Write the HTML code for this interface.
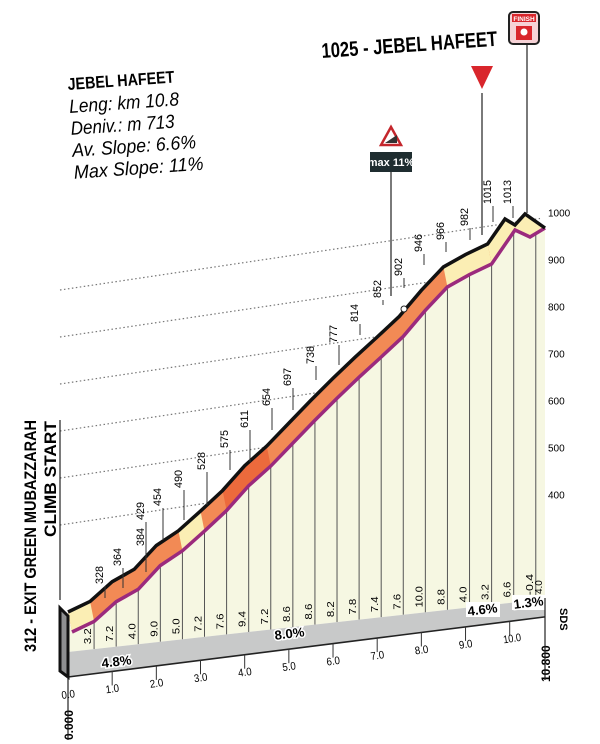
<!DOCTYPE html>
<html><head><meta charset="utf-8"><style>
html,body{margin:0;padding:0;background:#fff;width:600px;height:744px;overflow:hidden}
svg{display:block}
text{font-family:"Liberation Sans",sans-serif}
</style></head><body>
<svg id="s" width="600" height="744" viewBox="0 0 600 744" xmlns="http://www.w3.org/2000/svg">
<g id="grid"></g>
<g id="prof"></g>
<text x="322" y="58" font-size="21" font-weight="bold" transform="rotate(-4 322 58)" textLength="176" lengthAdjust="spacingAndGlyphs">1025 - JEBEL HAFEET</text>
<g transform="rotate(-4 68 90)">
<text x="68" y="90" font-size="17" font-weight="bold" textLength="107" lengthAdjust="spacingAndGlyphs">JEBEL HAFEET</text>
<text x="68" y="113" font-size="19" font-style="italic" textLength="110" lengthAdjust="spacingAndGlyphs">Leng: km 10.8</text>
<text x="68" y="135" font-size="19" font-style="italic" textLength="104" lengthAdjust="spacingAndGlyphs">Deniv.: m 713</text>
<text x="68" y="157" font-size="19" font-style="italic" textLength="124" lengthAdjust="spacingAndGlyphs">Av. Slope: 6.6%</text>
<text x="68" y="179" font-size="19" font-style="italic" textLength="130" lengthAdjust="spacingAndGlyphs">Max Slope: 11%</text>
</g>
<rect x="509" y="12" width="30" height="32" rx="4" fill="#f6d2d6" stroke="#222" stroke-width="2"/>
<rect x="512" y="14" width="24" height="8" fill="#d9262c"/>
<text x="524" y="21" font-size="6.5" fill="#fff" text-anchor="middle" font-weight="bold">FINISH</text>
<rect x="516" y="26" width="16" height="14" fill="#d9262c"/>
<circle cx="524" cy="32" r="3.5" fill="#fff"/>
<line x1="527" y1="44" x2="527" y2="213" stroke="#222" stroke-width="1.2"/>
<polygon points="471,66 493,66 482,89" fill="#d9262c"/>
<line x1="482" y1="93" x2="482" y2="235" stroke="#222" stroke-width="1.2"/>
<polygon points="391,127 401,145 381,145" fill="#fff" stroke="#c4262c" stroke-width="2.5"/>
<polygon points="385,143 397,143 397,135" fill="#333"/>
<rect x="370" y="152" width="42" height="20" fill="#1f2d30"/>
<text x="391" y="166" font-size="11" fill="#fff" text-anchor="middle" font-weight="bold">max 11%</text>
<line x1="391" y1="172" x2="391" y2="296" stroke="#222" stroke-width="1.2"/>
<text transform="translate(36,652) rotate(-90)" font-size="17" font-weight="bold" textLength="232" lengthAdjust="spacingAndGlyphs">312 - EXIT GREEN MUBAZZARAH</text>
<text transform="translate(56,537) rotate(-90)" font-size="17" font-weight="bold" textLength="116" lengthAdjust="spacingAndGlyphs">CLIMB START</text>
<line x1="60" y1="420" x2="60" y2="600" stroke="#222" stroke-width="1.2"/>
<text transform="translate(73,740) rotate(-90)" font-size="12" font-weight="bold">0.000</text>
<text transform="translate(550,682) rotate(-90)" font-size="12" font-weight="bold">10.800</text>
<text transform="translate(560,608) rotate(90)" font-size="11" font-weight="bold">SDS</text>
<line x1="68" y1="677" x2="68" y2="740" stroke="#222" stroke-width="1.2"/>
<line x1="545" y1="598" x2="545" y2="680" stroke="#222" stroke-width="1.2"/>
</svg>
<script>
(function(){
var NS="http://www.w3.org/2000/svg";
function el(p,t,a,txt){var e=document.createElementNS(NS,t);for(var k in a)e.setAttribute(k,a[k]);if(txt!=null)e.textContent=txt;document.getElementById(p).appendChild(e);return e;}
function X(km){return 68+km*44.17;}
function Y(x,e){return 290+(1000-e)*0.47-0.149*(x-60);}
function YP(x,e){return 612-0.149*(x-68)-(e-312)*0.456;}
function BT(x){return 652-(x-68)*0.111;}
function BB(x){return 677-(x-68)*0.126;}
[1000,900,800,700,600,500,400].forEach(function(e){
  var x0=(e>=500)?60:165;
  el("grid","line",{x1:x0,y1:Y(x0,e),x2:540,y2:Y(540,e),stroke:"#777","stroke-width":1.2,"stroke-dasharray":"1.5 2.5"});
  el("grid","text",{x:548,y:Y(540,e)-2,"font-size":10},String(e));
});
var g=[3.2,7.2,4.0,9.0,5.0,7.2,7.6,9.4,7.2,8.6,8.6,8.2,7.8,7.4,7.6,10.0,8.8,4.0,3.2,6.6,-0.4,4.0];
var pts=[[0,312]];var e=312;
for(var i=0;i<g.length;i++){var d=(i==21)?0.3:0.5;e+=g[i]*d*10;pts.push([Math.min(10.8,(i+1)*0.5),e]);}
var sc=(1025-312)/(e-312);pts=pts.map(function(p){return [p[0],312+(p[1]-312)*sc];});
var tp=pts.map(function(p){var x=X(p[0]);return [x,YP(x,p[1])];});
var dx=4,dy=20;
var bt=tp.map(function(p){return [Math.min(p[0]+dx,545),p[1]+dy];});
tp=tp.slice(0,20);
tp.push([505,219],[515,225],[525,214],[545,228]);
bt=bt.slice(0,20);
bt.push([515,230],[530,237],[545,228]);
var poly=bt.map(function(p){return p.join(",")}).join(" ");
el("prof","polygon",{points:"68,"+(tp[0][1]+4)+" "+poly+" 545,"+BT(545)+" 68,"+BT(68),fill:"#f6f7e2"});
var band=tp.map(function(p){return p.join(",")}).concat(bt.slice().reverse().map(function(p){return p.join(",")})).join(" ");
el("prof","polygon",{points:band,fill:"#f28a55"});
function patch(r,col){var a=tp.slice(r[0],r[1]+1),b=bt.slice(r[0],r[1]+1).reverse();
  el("prof","polygon",{points:a.concat(b).map(function(p){return p.join(",")}).join(" "),fill:col});}
[[0,1],[5,6],[17,19]].forEach(function(r){patch(r,"#fbeeb4");});
el("prof","polygon",{points:tp.slice(19).concat(bt.slice(19).reverse()).map(function(p){return p.join(",")}).join(" "),fill:"#fbeeb4"});
patch([7,9],"#ec6a3c");
var extraY={20:231,21:235};
for(var i=1;i<=21;i++){var x=Math.min(X(i*0.5)+dx,545);
  var yb=(i<20)?bt[i][1]:extraY[i];
  el("prof","line",{x1:x,y1:yb,x2:x,y2:BT(x),stroke:"#555","stroke-width":1});
  var s=String(g[i-1]);if(s.indexOf(".")<0)s+=".0";
  el("prof","text",{transform:"translate("+(x-3)+","+(BT(x)-5)+") rotate(-90)","font-size":10,textLength:s.length*5.3,lengthAdjust:"spacingAndGlyphs"},s);
}
el("prof","text",{transform:"translate(542,"+(BT(545)-5)+") rotate(-90)","font-size":10},"4.0");
el("prof","polyline",{points:poly,fill:"none",stroke:"#9b2a7d","stroke-width":3.5});
el("prof","polyline",{points:tp.map(function(p){return p.join(",")}).join(" "),fill:"none",stroke:"#111","stroke-width":3.5});
el("prof","polygon",{points:"68,"+BT(68)+" 545,"+BT(545)+" 545,"+BB(545)+" 68,"+BB(68),fill:"#c8c9c9"});
el("prof","line",{x1:68,y1:BB(68),x2:545,y2:BB(545),stroke:"#222","stroke-width":1.5});
el("prof","polygon",{points:"60,"+(tp[0][1]-4)+" 68,"+(tp[0][1]+4)+" 68,"+BB(68)+" 60,"+(BB(68)-6),fill:"#8e8f90",stroke:"#111","stroke-width":3});
for(var k=0;k<=10;k++){var x=X(k);var s=k.toFixed(1);
  el("prof","line",{x1:x,y1:BB(x),x2:x,y2:BB(x)+14,stroke:"#333","stroke-width":1});
  el("prof","text",{x:x-6,y:BB(x)+22,"font-size":11,textLength:s.length*4.5,lengthAdjust:"spacingAndGlyphs",transform:"rotate(-8 "+(x-6)+" "+(BB(x)+22)+")"},s);
}
[[117,666,"4.8%"],[290,638,"8.0%"],[483,614,"4.6%"],[529,607,"1.3%"]].forEach(function(t){
  if(t[0]>400)el("prof","rect",{x:t[0]-17,y:t[1]-12,width:34,height:15,fill:"#fff"});
  el("prof","text",{x:t[0],y:t[1],"font-size":13,"font-weight":"bold","text-anchor":"middle",textLength:30,lengthAdjust:"spacingAndGlyphs",transform:"rotate(-7 "+t[0]+" "+t[1]+")",stroke:"#fff","stroke-width":3,"paint-order":"stroke"},t[2]);
});
var lab=[["328",105,598,584],["364",123,588,566],["384",146,572,546],["429",146,555,520],["454",163,540,506],["490",184,520,488],["528",207,505,470],["575",230,470,448],["611",250,462,428],["654",272,430,406],["697",293,410,386],["738",316,380,364],["777",339,365,343],["814",360,335,322],["852",383,305,298],["902",404,288,276],["946",424,265,252],["966",446,252,240],["982",470,240,226],["1015",493,222,204],["1013",513,218,204]];
lab.forEach(function(l){
  el("prof","line",{x1:l[1],y1:l[2],x2:l[1],y2:l[3]+2,stroke:"#333","stroke-width":1});
  el("prof","text",{transform:"translate("+(l[1]-2)+","+l[3]+") rotate(-90)","font-size":11,textLength:l[0].length*6,lengthAdjust:"spacingAndGlyphs"},l[0]);
});
el("prof","circle",{cx:404,cy:309,r:3,fill:"#fff",stroke:"#222","stroke-width":1});
})();
</script>
</body></html>
